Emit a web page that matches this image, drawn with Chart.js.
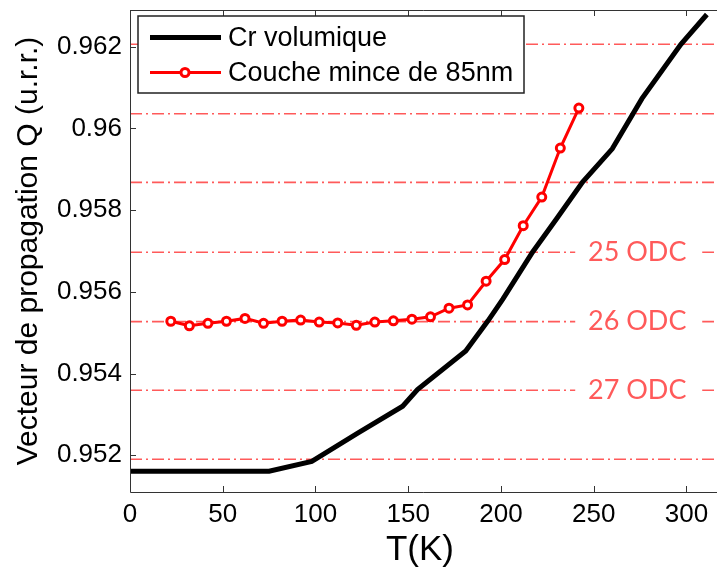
<!DOCTYPE html>
<html>
<head>
<meta charset="utf-8">
<script src="https://cdn.jsdelivr.net/npm/chart.js@4.4.1/dist/chart.umd.min.js"></script>
<style>
html, body { margin: 0; padding: 0; background: #fff; overflow: hidden; }
#chart { display: block; }
</style>
</head>
<body>
<canvas id="chart" width="717" height="571"></canvas>
<script>
// Cr volumique (bulk)
const tempBulk = [0, 75, 98, 123, 147, 155, 181, 193, 201, 217, 230, 244, 260, 276, 297, 311];
const qBulk = [0.95161, 0.95161, 0.95185, 0.95255, 0.9532, 0.95361, 0.95455, 0.95529, 0.95582,
  0.95697, 0.95779, 0.95869, 0.9595, 0.96073, 0.96206, 0.96279];

// couche mince 85 nm
const tempFilm = [22, 32, 42, 52, 62, 72, 82, 92, 102, 112, 122, 132, 142, 152, 162, 172, 182, 192, 202, 212, 222, 232, 242];
const qFilm = [0.95528, 0.95517, 0.95523, 0.95528, 0.95535, 0.95523, 0.95528, 0.95531, 0.95526, 0.95524,
  0.95518, 0.95526, 0.95529, 0.95533, 0.95539, 0.9556, 0.95568, 0.95626, 0.95679, 0.95762, 0.95832, 0.95952, 0.9605];

// commensurate ODC levels (dash-dot lines)
const odcLevels = [0.95190, 0.95359, 0.95527, 0.95697, 0.95868, 0.96036, 0.96206];
const odcNames = ['', '27 ODC', '26 ODC', '25 ODC', '', '', ''];

const xTicks = [0, 50, 100, 150, 200, 250, 300];
const yTicks = [0.952, 0.954, 0.956, 0.958, 0.96, 0.962];

const ODC_RED = '#ff5a5a';
const SANS = '"Liberation Sans", Arial, sans-serif';

const odcSets = odcLevels.map(function(v) {
  return {
    label: '',
    data: [{x: 0, y: v}, {x: 320, y: v}],
    showLine: true,
    clip: false,
    borderColor: ODC_RED,
    borderWidth: 1.6,
    borderDash: [12, 4, 2, 4],
    pointRadius: 0,
    order: 3
  };
});

const bulkSet = {
  label: 'Cr volumique',
  data: tempBulk.map((t, i) => ({x: t, y: qBulk[i]})),
  showLine: true,
  borderColor: '#000',
  borderWidth: 5,
  pointRadius: 0,
  order: 2
};

const filmSet = {
  label: 'Couche mince de 85nm',
  data: tempFilm.map((t, i) => ({x: t, y: qFilm[i]})),
  showLine: true,
  borderColor: '#ff0000',
  borderWidth: 3,
  pointRadius: 4,
  pointBorderWidth: 3,
  pointBorderColor: '#ff0000',
  pointBackgroundColor: '#fff',
  order: 1
};

function noPad(s) {
  s.paddingTop = 0; s.paddingBottom = 0; s.paddingLeft = 0; s.paddingRight = 0;
}

const decor = {
  id: 'decor',
  afterDatasetsDraw(chart) {
    const ctx = chart.ctx, a = chart.chartArea;
    const xs = chart.scales.x, ys = chart.scales.y;
    ctx.save();

    // ODC labels
    ctx.font = '27px Lato, "Open Sans", sans-serif';
    ctx.textAlign = 'center';
    ctx.textBaseline = 'middle';
    odcLevels.forEach(function(v, i) {
      if (!odcNames[i]) return;
      const px = xs.getPixelForValue(274), py = ys.getPixelForValue(v);
      ctx.fillStyle = '#fff';
      ctx.fillRect(px - 63, py - 5, 127, 10);
      ctx.fillStyle = ODC_RED;
      ctx.fillText(odcNames[i], px - 1, py);
    });

    // frame and inward ticks (right edge of the box falls outside the picture)
    ctx.strokeStyle = '#333';
    ctx.lineWidth = 1;
    ctx.beginPath();
    ctx.moveTo(chart.width, Math.round(a.top) + 0.5);
    ctx.lineTo(Math.round(a.left) + 0.5, Math.round(a.top) + 0.5);
    ctx.lineTo(Math.round(a.left) + 0.5, Math.round(a.bottom) + 0.5);
    ctx.lineTo(chart.width, Math.round(a.bottom) + 0.5);
    xTicks.forEach(function(v) {
      const px = Math.round(xs.getPixelForValue(v)) + 0.5;
      ctx.moveTo(px, a.bottom); ctx.lineTo(px, a.bottom - 6);
      ctx.moveTo(px, a.top); ctx.lineTo(px, a.top + 6);
    });
    yTicks.forEach(function(v) {
      const py = Math.round(ys.getPixelForValue(v)) + 0.5;
      ctx.moveTo(a.left, py); ctx.lineTo(a.left + 6, py);
    });
    ctx.stroke();

    // legend box
    const lx = a.left + 8, ly = a.top + 6, lw = 386, lh = 77;
    ctx.fillStyle = '#fff';
    ctx.fillRect(lx, ly, lw, lh);
    ctx.strokeStyle = '#222';
    ctx.lineWidth = 1.5;
    ctx.strokeRect(lx, ly, lw, lh);
    ctx.font = '27px ' + SANS;
    ctx.textAlign = 'left';
    ctx.textBaseline = 'middle';
    [bulkSet, filmSet].forEach(function(ds, i) {
      const ry = ly + 21.5 + i * 35;
      ctx.strokeStyle = ds.borderColor;
      ctx.lineWidth = ds.borderWidth;
      ctx.beginPath();
      ctx.moveTo(lx + 12, ry); ctx.lineTo(lx + 83, ry);
      ctx.stroke();
      if (ds.pointRadius) {
        ctx.beginPath();
        ctx.arc(lx + 47, ry, ds.pointRadius, 0, Math.PI * 2);
        ctx.fillStyle = ds.pointBackgroundColor;
        ctx.fill();
        ctx.lineWidth = ds.pointBorderWidth;
        ctx.strokeStyle = ds.pointBorderColor;
        ctx.stroke();
      }
      ctx.fillStyle = '#000';
      ctx.fillText(ds.label, lx + 90, ry + 1);
    });
    ctx.restore();
  }
};

new Chart(document.getElementById('chart'), {
  type: 'scatter',
  data: { datasets: odcSets.concat([bulkSet, filmSet]) },
  options: {
    responsive: false,
    devicePixelRatio: 1,
    animation: false,
    layout: { padding: { top: 10, right: 0, bottom: 0, left: 0 } },
    plugins: { legend: { display: false }, tooltip: { enabled: false } },
    scales: {
      x: {
        type: 'linear',
        min: 0,
        max: 312.7,
        afterBuildTicks: s => { s.ticks = xTicks.map(v => ({value: v})); },
        afterFit: s => { s.height = 79; noPad(s); },
        grid: { display: false, drawTicks: false },
        border: { display: false },
        ticks: { color: '#000', padding: 7, maxRotation: 0, autoSkip: false, font: { family: SANS, size: 26 } },
        title: { display: true, text: 'T(K)', color: '#000', padding: { top: 0, bottom: 0 }, font: { family: SANS, size: 35, lineHeight: 1.2 } }
      },
      y: {
        type: 'linear',
        min: 0.9511,
        max: 0.9629,
        afterBuildTicks: s => { s.ticks = yTicks.map(v => ({value: v})); },
        afterFit: s => { s.width = 130; noPad(s); },
        grid: { display: false, drawTicks: false },
        border: { display: false },
        ticks: { color: '#000', padding: 8, font: { family: SANS, size: 26 }, callback: v => String(+v.toFixed(3)) },
        title: { display: true, text: 'Vecteur de propagation Q (u.r.r.)', color: '#000', padding: { top: 11, bottom: 0 }, font: { family: SANS, size: 30, lineHeight: 1.2 } }
      }
    }
  },
  plugins: [decor]
});
</script>
</body>
</html>
